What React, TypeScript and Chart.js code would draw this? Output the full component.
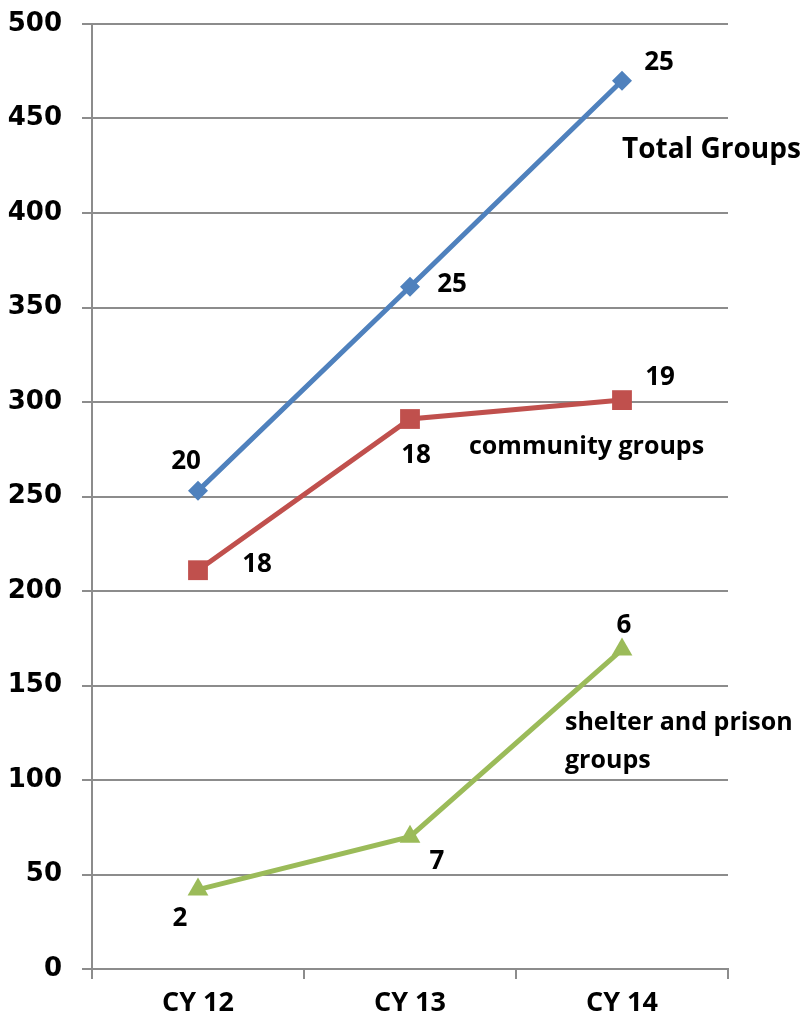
import React, { useEffect, useRef } from "react";
import { Chart, registerables } from "chart.js";

Chart.register(...registerables);

const categories = ["CY 12", "CY 13", "CY 14"];
const totalGroups = [253, 361, 470];
const communityGroups = [211, 291, 301];
const shelterPrisonGroups = [42, 70, 169];
const totalLabels = ["20", "25", "25"];
const communityLabels = ["18", "18", "19"];
const shelterLabels = ["2", "7", "6"];
const yTicks = [0, 50, 100, 150, 200, 250, 300, 350, 400, 450, 500];

// label offsets (pixels) relative to each point
const labelOffsets = [
  [[-12, -29], [42, -2], [37, -18]],
  [[59, -6], [6, 37], [38, -23]],
  [[-18, 29], [27, 25], [2, -24]],
];

const seriesNames = [
  { lines: ["Total Groups"], x: 622, y: 150, size: 28 },
  { lines: ["community groups"], x: 469, y: 447, size: 25 },
  { lines: ["shelter and prison", "groups"], x: 565, y: 723, size: 25, lh: 38 },
];

const labelPlugin = {
  id: "labelPlugin",
  afterDatasetsDraw(chart: any) {
    const ctx = chart.ctx;
    const allLabels = [totalLabels, communityLabels, shelterLabels];
    ctx.save();
    ctx.fillStyle = "#000";
    ctx.font = "700 26px 'Open Sans'";
    ctx.textAlign = "center";
    ctx.textBaseline = "middle";
    chart.data.datasets.forEach((ds: any, di: number) => {
      const meta = chart.getDatasetMeta(di);
      meta.data.forEach((pt: any, i: number) => {
        const [dx, dy] = labelOffsets[di][i];
        ctx.fillText(allLabels[di][i], pt.x + dx, pt.y + dy);
      });
    });
    ctx.textAlign = "left";
    seriesNames.forEach((s: any) => {
      ctx.font = `700 ${s.size}px 'Open Sans'`;
      s.lines.forEach((ln: string, k: number) => {
        ctx.fillText(ln, s.x, s.y + k * (s.lh || 0));
      });
    });
    ctx.restore();
  },
};

export default function App() {
  const ref = useRef<HTMLCanvasElement>(null);
  useEffect(() => {
    if (!ref.current) return;
    const grid = "#8c8c8c";
    const chart = new Chart(ref.current, {
      type: "line",
      data: {
        labels: categories,
        datasets: [
          {
            label: "Total Groups",
            data: totalGroups,
            borderColor: "#4F81BD",
            backgroundColor: "#4F81BD",
            borderWidth: 5,
            pointStyle: "rectRot",
            pointRadius: 10,
            pointBorderWidth: 0,
          },
          {
            label: "community groups",
            data: communityGroups,
            borderColor: "#C0504D",
            backgroundColor: "#C0504D",
            borderWidth: 5,
            pointStyle: "rect",
            pointRadius: 14,
            pointBorderWidth: 0,
          },
          {
            label: "shelter and prison groups",
            data: shelterPrisonGroups,
            borderColor: "#9BBB59",
            backgroundColor: "#9BBB59",
            borderWidth: 5,
            pointStyle: "triangle",
            pointRadius: 12,
            pointBorderWidth: 0,
          },
        ],
      },
      options: {
        responsive: false,
        animation: false,
        devicePixelRatio: 1,
        layout: { padding: { left: 0, top: 24, right: 77, bottom: 0 } },
        plugins: { legend: { display: false }, tooltip: { enabled: false } },
        scales: {
          x: {
            offset: true,
            grid: {
              offset: true,
              drawOnChartArea: false,
              drawTicks: true,
              tickLength: 10,
              color: grid,
              lineWidth: 2,
            },
            border: { display: true, color: grid, width: 2 },
            ticks: {
              color: "#000",
              font: { family: "'Open Sans'", size: 27, weight: "bold" },
              padding: 8,
            },
            afterFit: (s: any) => {
              s.height = 53;
              s.paddingLeft = 0;
              s.paddingRight = 0;
            },
          },
          y: {
            min: 0,
            max: 500,
            afterBuildTicks: (s: any) => {
              s.ticks = yTicks.map((v) => ({ value: v }));
            },
            grid: { color: grid, lineWidth: 2, tickLength: 10 },
            border: { display: true, color: grid, width: 2 },
            ticks: {
              color: "#000",
              font: { family: "'DejaVu Sans'", size: 26, weight: "bold" },
              padding: 20,
            },
            afterFit: (s: any) => {
              s.width = 92;
              s.paddingTop = 0;
              s.paddingBottom = 0;
            },
          },
        },
      },
      plugins: [labelPlugin],
    });
    return () => chart.destroy();
  }, []);
  return (
    <div style={{ position: "fixed", left: 0, top: 0, width: 805, height: 1022, background: "#fff" }}>
      <canvas ref={ref} width={805} height={1022} />
    </div>
  );
}
